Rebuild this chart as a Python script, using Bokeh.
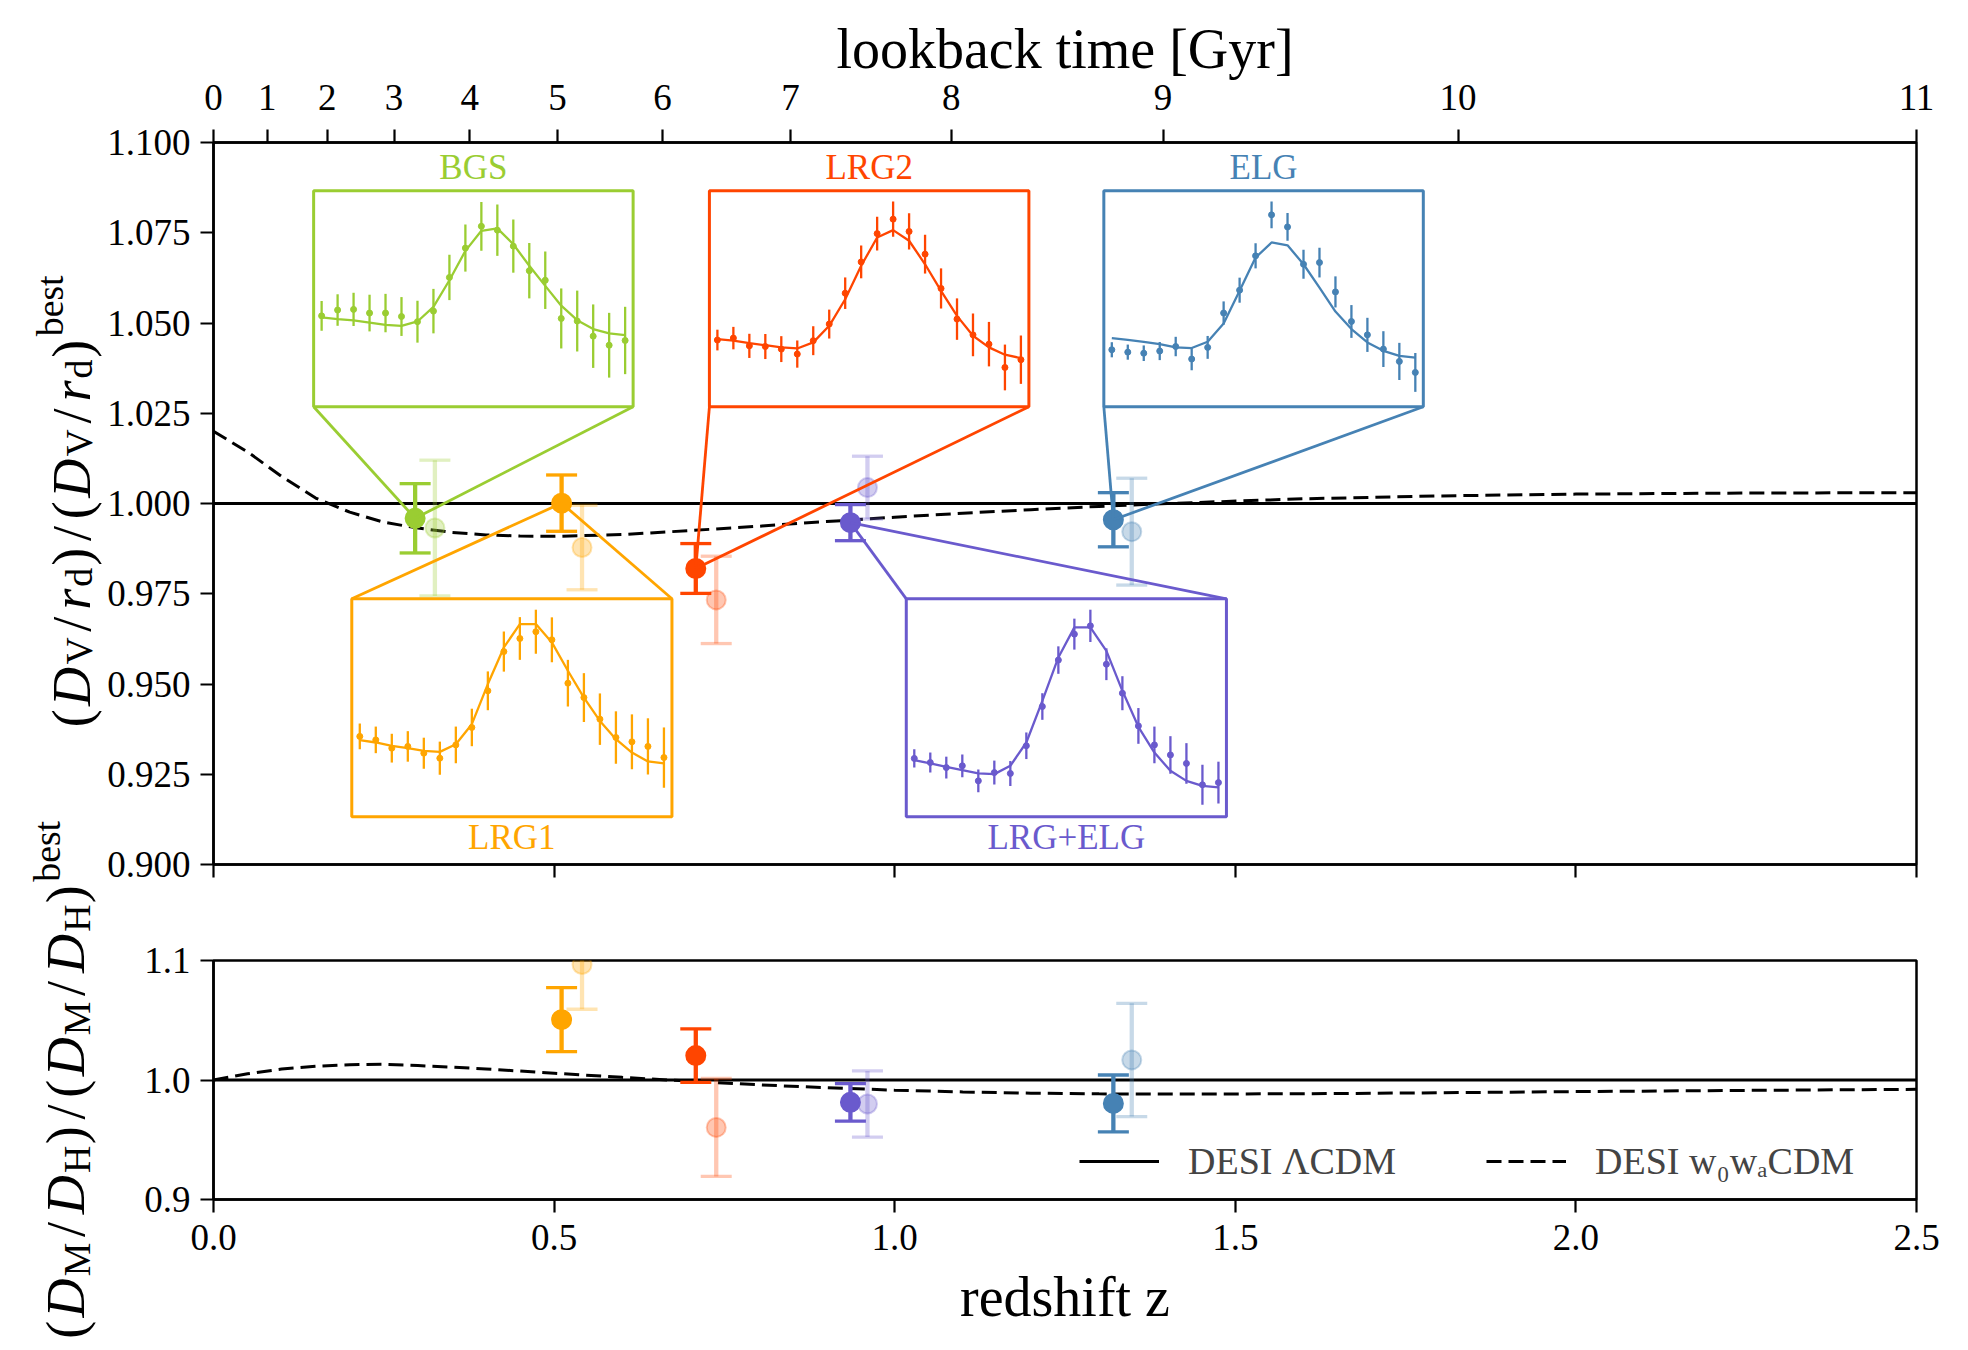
import math
from bokeh.plotting import figure
from bokeh.layouts import row, column
from bokeh.models import (Range1d, FixedTicker, PrintfTickFormatter, LinearAxis,
                          ColumnDataSource, Legend, LegendItem)
from bokeh.core.properties import value, field
from bokeh.embed import file_html
from bokeh.resources import INLINE

# ---------------------------------------------------------------- data
tracers = ["BGS", "LRG1", "LRG2", "LRG+ELG", "ELG"]
tracer_colors = ["#9acd32", "#ffa500", "#ff4500", "#6a5acd", "#4682b4"]

# isotropic BAO, (D_V/r_d) / best
z_eff = [0.296, 0.511, 0.708, 0.935, 1.321]
dv_ratio = [0.9959, 1.0001, 0.9820, 0.9947, 0.9955]
dv_err = [0.0096, 0.0078, 0.0069, 0.0050, 0.0075]
z_eff_prev = [0.325, 0.541, 0.738, 0.960, 1.348]
dv_ratio_prev = [0.9932, 0.9878, 0.9733, 1.0044, 0.9922]
dv_err_prev = [0.0188, 0.0117, 0.0121, 0.0087, 0.0148]

# anisotropic BAO, (D_M/D_H) / best
aniso_tracers = ["LRG1", "LRG2", "LRG+ELG", "ELG"]
aniso_colors = ["#ffa500", "#ff4500", "#6a5acd", "#4682b4"]
z_aniso = [0.511, 0.708, 0.935, 1.321]
dmdh_ratio = [1.0505, 1.0204, 0.9813, 0.9804]
dmdh_err = [0.0268, 0.0224, 0.0157, 0.0238]
z_aniso_prev = [0.541, 0.738, 0.960, 1.348]
dmdh_ratio_prev = [1.0966, 0.9603, 0.9799, 1.0168]
dmdh_err_prev = [0.0374, 0.0410, 0.0277, 0.0474]

# models
lcdm_z = [0.0, 2.5]
lcdm_ratio = [1.0, 1.0]
model_z = [0.0, 0.05, 0.1, 0.15, 0.2, 0.25, 0.3, 0.35, 0.4, 0.45, 0.5, 0.6, 0.7,
           0.8, 0.9, 1.0, 1.1, 1.2, 1.3, 1.4, 1.6, 1.8, 2.0, 2.25, 2.5]
w0wa_dv = [1.0200, 1.0143, 1.0075, 1.0015, 0.9976, 0.9948, 0.9932, 0.9920, 0.9913,
           0.9910, 0.9909, 0.9914, 0.9925, 0.9937, 0.9950, 0.9962, 0.9973, 0.9983,
           0.9992, 1.0000, 1.0013, 1.0021, 1.0026, 1.0029, 1.0030]
w0wa_dmdh = [1.0000, 1.0052, 1.0092, 1.0115, 1.0128, 1.0131, 1.0121, 1.0108, 1.0092,
             1.0075, 1.0057, 1.0022, 0.9990, 0.9960, 0.9935, 0.9915, 0.9900, 0.9890,
             0.9884, 0.9882, 0.9885, 0.9893, 0.9903, 0.9913, 0.9922]

# axes ticks
z_ticks = [0.0, 0.5, 1.0, 1.5, 2.0, 2.5]
dv_ticks = [0.9, 0.925, 0.95, 0.975, 1.0, 1.025, 1.05, 1.075, 1.1]
dmdh_ticks = [0.9, 1.0, 1.1]
lookback_gyr = [0, 1, 2, 3, 4, 5, 6, 7, 8, 9, 10, 11]
lookback_z = [0.0, 0.079, 0.167, 0.265, 0.376, 0.505, 0.659, 0.847, 1.083, 1.394, 1.827, 2.5]

# inset correlation-function panels
inset_s = [50, 55, 60, 65, 70, 75, 80, 85, 90, 95, 100, 105, 110, 115, 120, 125, 130, 135, 140, 145]
bgs_xi = [42.1, 44.8, 45.1, 43.4, 43.4, 41.8, 39.4, 44.3, 59.9, 73.5, 83.6, 81.8, 74.4, 63.0, 58.6, 40.9, 39.7, 32.7, 28.5, 30.7]
bgs_xi_err = [6.9, 7.3, 7.7, 8.5, 8.9, 9.0, 9.7, 10.3, 10.5, 10.9, 11.3, 11.9, 12.3, 12.8, 13.3, 13.9, 14.1, 14.7, 15.0, 15.6]
bgs_model = [41.4, 40.6, 40.0, 39.0, 37.9, 37.5, 39.5, 46.3, 58.6, 72.2, 81.5, 82.6, 75.3, 65.3, 56.0, 46.8, 40.1, 36.0, 34.0, 33.2]

lrg1_xi = [36.9, 35.3, 31.5, 32.3, 29.2, 26.9, 33.0, 41.0, 57.8, 75.8, 81.8, 84.9, 81.2, 61.3, 54.7, 44.8, 36.4, 34.4, 32.3, 27.2]
lrg1_xi_err = [5.9, 6.1, 6.6, 7.0, 7.1, 7.6, 8.4, 8.6, 8.9, 9.2, 9.8, 10.1, 10.3, 10.7, 11.2, 11.8, 12.0, 12.6, 12.9, 13.8]
lrg1_model = [35.2, 34.1, 32.6, 31.5, 30.3, 29.8, 33.3, 42.5, 60.9, 77.7, 88.4, 88.4, 80.0, 67.0, 54.7, 44.0, 35.6, 29.5, 25.4, 24.5]

lrg2_xi = [30.9, 31.8, 28.2, 27.9, 26.7, 24.4, 30.6, 38.3, 52.6, 67.1, 80.2, 86.9, 81.2, 70.7, 54.8, 40.6, 33.3, 29.0, 18.2, 21.8]
lrg2_xi_err = [4.8, 5.2, 5.6, 5.8, 6.0, 6.3, 6.7, 6.7, 7.3, 7.6, 7.8, 8.2, 8.4, 9.0, 9.3, 9.6, 9.9, 10.3, 10.6, 11.2]
lrg2_model = [31.3, 30.6, 29.5, 28.5, 27.5, 27.0, 29.8, 37.5, 49.8, 65.3, 78.4, 81.8, 76.9, 66.0, 53.7, 42.1, 32.9, 27.5, 24.1, 22.5]

lrgelg_xi = [26.8, 24.9, 22.6, 23.4, 16.5, 20.3, 19.9, 32.6, 50.6, 71.9, 83.8, 87.6, 70.0, 56.7, 41.7, 33.0, 28.4, 24.5, 14.7, 15.7]
lrgelg_xi_err = [4.2, 4.6, 5.0, 5.2, 5.2, 5.5, 5.7, 6.1, 6.1, 6.3, 7.1, 7.4, 7.3, 7.8, 8.2, 8.4, 8.6, 9.3, 9.2, 9.6]
lrgelg_model = [26.0, 24.5, 22.9, 21.4, 19.9, 19.6, 23.4, 34.1, 53.2, 73.1, 86.9, 86.9, 76.1, 57.8, 41.3, 29.5, 21.1, 16.5, 14.2, 13.5]

elg_xi = [26.4, 25.3, 24.8, 25.8, 27.9, 22.1, 27.5, 43.4, 54.0, 69.9, 88.9, 83.3, 66.0, 66.8, 53.2, 39.5, 33.3, 26.7, 21.0, 15.9]
elg_xi_err = [3.5, 3.5, 3.6, 4.2, 4.5, 5.2, 5.3, 5.4, 5.8, 5.8, 6.2, 6.4, 6.7, 6.9, 7.2, 7.6, 7.9, 8.3, 8.6, 9.0]
elg_model = [31.8, 31.0, 30.1, 29.0, 27.5, 27.2, 30.1, 38.6, 53.7, 69.1, 76.1, 74.8, 66.0, 55.2, 44.1, 36.0, 29.8, 25.9, 23.6, 22.8]

inset_data = {
    "BGS": (bgs_xi, bgs_xi_err, bgs_model),
    "LRG1": (lrg1_xi, lrg1_xi_err, lrg1_model),
    "LRG2": (lrg2_xi, lrg2_xi_err, lrg2_model),
    "LRG+ELG": (lrgelg_xi, lrgelg_xi_err, lrgelg_model),
    "ELG": (elg_xi, elg_xi_err, elg_model),
}

# ---------------------------------------------------------------- layout constants
FONT = "Liberation Serif"
inset_boxes = {
    "BGS": (0.147, 0.616, 1.0268, 1.0866, "above"),
    "LRG1": (0.203, 0.673, 0.9132, 0.9736, "below"),
    "LRG2": (0.728, 1.197, 1.0268, 1.0866, "above"),
    "LRG+ELG": (1.017, 1.487, 0.9132, 0.9736, "below"),
    "ELG": (1.307, 1.776, 1.0268, 1.0866, "above"),
}

LAB_W = 104                                # strip holding the rotated y labels
FR_L, FR_W, FR_R = 213, 1703, 40           # frame left (page px) / width / right border
MAIN_W = FR_L - LAB_W + FR_W + FR_R
TOP_FT, TOP_FH, SPLIT = 142, 722, 904      # top frame top, height, canvas split
BOT_FT_ABS, BOT_FH, PAGE_H = 960, 239, 1348
TOP_H = SPLIT
BOT_H = PAGE_H - SPLIT


def style_axis(ax, label_standoff=8):
    ax.axis_line_color = "black"
    ax.axis_line_width = 2.5
    ax.major_tick_line_color = "black"
    ax.major_tick_line_width = 2.2
    ax.major_tick_out = 13
    ax.major_tick_in = 0
    ax.minor_tick_line_color = None
    ax.major_label_text_font = FONT
    ax.major_label_text_font_size = "37px"
    ax.major_label_text_color = "black"
    ax.major_label_standoff = label_standoff
    ax.axis_label_text_font = FONT
    ax.axis_label_text_font_size = "56px"
    ax.axis_label_text_font_style = "normal"
    ax.axis_label_text_color = "black"


def base_style(fig):
    fig.grid.grid_line_color = None
    fig.outline_line_color = "black"
    fig.outline_line_width = 2.5
    fig.background_fill_color = "white"
    fig.border_fill_color = "white"


def draw_measurements(fig, zs, vals, errs, cols, faded):
    a = 0.3 if faded else 1.0
    src = ColumnDataSource(dict(z=zs, v=vals,
                                lo=[v - e for v, e in zip(vals, errs)],
                                hi=[v + e for v, e in zip(vals, errs)],
                                color=cols))
    fig.segment(x0="z", y0="lo", x1="z", y1="hi", source=src, line_color="color",
                line_width=4.3, line_alpha=a)
    for key in ("lo", "hi"):
        fig.scatter(x="z", y=key, source=src, marker="dash", size=31,
                    line_color="color", line_width=3.3, line_alpha=a)
    fig.scatter(x="z", y="v", source=src, marker="circle", size=19,
                fill_color="color", line_color="color", fill_alpha=a,
                line_alpha=a, line_width=2)


# ---------------------------------------------------------------- top panel
top = figure(width=MAIN_W, height=TOP_H, x_range=Range1d(0, 2.5), y_range=Range1d(0.9, 1.1),
             output_backend="svg", toolbar_location=None,
             min_border_left=FR_L - LAB_W, min_border_right=FR_R, min_border_top=TOP_FT,
             min_border_bottom=TOP_H - TOP_FT - TOP_FH)
base_style(top)
top.xaxis.ticker = FixedTicker(ticks=z_ticks)
top.xaxis.major_label_overrides = {t: "" for t in z_ticks}
top.yaxis.ticker = FixedTicker(ticks=dv_ticks)
top.yaxis.formatter = PrintfTickFormatter(format="%.3f")
for ax in top.xaxis:
    style_axis(ax, 0)
    ax.major_label_text_font_size = "1px"
for ax in top.yaxis:
    style_axis(ax, 10)

lb_axis = LinearAxis(ticker=FixedTicker(ticks=lookback_z),
                     major_label_overrides={z: str(g) for z, g in zip(lookback_z, lookback_gyr)},
                     axis_label="lookback time [Gyr]")
style_axis(lb_axis, 20)
lb_axis.axis_label_standoff = 2
top.add_layout(lb_axis, "above")

top.line(lcdm_z, lcdm_ratio, line_color="black", line_width=3)
top.line(model_z, w0wa_dv, line_color="black", line_width=3, line_dash="15 7")

draw_measurements(top, z_eff_prev, dv_ratio_prev, dv_err_prev, tracer_colors, True)
draw_measurements(top, z_eff, dv_ratio, dv_err, tracer_colors, False)

for name, col, z, v in zip(tracers, tracer_colors, z_eff, dv_ratio):
    z0, z1, v0, v1, side = inset_boxes[name]
    cy = v0 if side == "above" else v1
    top.segment(x0=[z, z], y0=[v, v], x1=[z0, z1], y1=[cy, cy], line_color=col, line_width=2.8)
for name, col in zip(tracers, tracer_colors):
    z0, z1, v0, v1, side = inset_boxes[name]
    top.quad(left=[z0], right=[z1], bottom=[v0], top=[v1], fill_color="white",
             line_color=col, line_width=3)
    xi, xerr, model = inset_data[name]
    sub = top.subplot(x_source=Range1d(47.5, 147.5), y_source=Range1d(0, 100),
                      x_target=Range1d(z0, z1), y_target=Range1d(v0, v1))
    sub.segment(x0=inset_s, y0=[a - b for a, b in zip(xi, xerr)],
                x1=inset_s, y1=[a + b for a, b in zip(xi, xerr)],
                line_color=col, line_width=2.3)
    sub.line(inset_s, model, line_color=col, line_width=2.3)
    sub.scatter(inset_s, xi, size=6, fill_color=col, line_color=col)
    ty = v1 + 0.0065 if side == "above" else v0 - 0.0058
    top.text(x=[(z0 + z1) / 2], y=[ty], text=[name], text_color=col,
             text_font=value(FONT), text_font_size="35px",
             text_align="center", text_baseline="middle")

# ---------------------------------------------------------------- bottom panel
bot = figure(width=MAIN_W, height=BOT_H, x_range=top.x_range, y_range=Range1d(0.9, 1.1),
             output_backend="svg", toolbar_location=None,
             min_border_left=FR_L - LAB_W, min_border_right=FR_R,
             min_border_top=BOT_FT_ABS - SPLIT,
             min_border_bottom=BOT_H - (BOT_FT_ABS - SPLIT) - BOT_FH)
base_style(bot)
bot.xaxis.ticker = FixedTicker(ticks=z_ticks)
bot.xaxis.formatter = PrintfTickFormatter(format="%.1f")
bot.xaxis.axis_label = "redshift z"
bot.yaxis.ticker = FixedTicker(ticks=dmdh_ticks)
bot.yaxis.formatter = PrintfTickFormatter(format="%.1f")
for ax in bot.xaxis:
    style_axis(ax, 12)
    ax.axis_label_standoff = 13
for ax in bot.yaxis:
    style_axis(ax, 10)

r_lcdm = bot.line(lcdm_z, lcdm_ratio, line_color="black", line_width=3)
r_w0wa = bot.line(model_z, w0wa_dmdh, line_color="black", line_width=3, line_dash="15 7")
draw_measurements(bot, z_aniso_prev, dmdh_ratio_prev, dmdh_err_prev, aniso_colors, True)
draw_measurements(bot, z_aniso, dmdh_ratio, dmdh_err, aniso_colors, False)

legend = Legend(items=[LegendItem(label="DESI \u039bCDM", renderers=[r_lcdm]),
                       LegendItem(label="DESI w\u2080w\u2090CDM", renderers=[r_w0wa])],
                orientation="horizontal", location=(866, 16), glyph_width=80, glyph_height=20,
                label_standoff=29, spacing=90, padding=5, margin=0,
                label_text_font=FONT, label_text_font_size="38px",
                border_line_color=None, background_fill_alpha=0)
bot.add_layout(legend)

# ---------------------------------------------------------------- rotated y labels strip
lab = figure(width=LAB_W, height=PAGE_H, x_range=Range1d(0, LAB_W), y_range=Range1d(0, PAGE_H),
             output_backend="svg", toolbar_location=None, min_border=0,
             min_border_left=0, min_border_right=0, min_border_top=0, min_border_bottom=0,
             x_axis_location=None, y_axis_location=None)
lab.grid.grid_line_color = None
lab.outline_line_color = None
lab.border_fill_color = "white"
lab.background_fill_color = "white"

CM_ADV = {"(": .389, ")": .389, "/": .5, "D": .828, "r": .451, "V": .75, "d": .556,
          "M": .917, "H": .75, "best": 1.783}
TM_W = {"(": .333, ")": .333, "/": .278, "D": .722, "r": .389, "V": .722, "d": .5,
        "M": .889, "H": .722, "best": 1.611}
ITAL = {"D", "r"}


def add_vertical_math(seq, start_y, base_x, sub_shift, sup_shift):
    xs, ys, txt, sty, siz = [], [], [], [], []
    s = 0.0
    for tok, kind in seq:
        sc = 1.0 if kind == "main" else 0.7
        adv = CM_ADV[tok] * 52.4 * sc
        w = TM_W[tok] * 54 * sc
        shift = {"main": 0, "sub": sub_shift, "sup": -sup_shift}[kind]
        xs.append(base_x + shift)
        ys.append(PAGE_H - (start_y - s - (adv - w) / 2))
        txt.append(tok)
        sty.append("italic" if tok in ITAL else "normal")
        siz.append("%.1fpx" % (54 * sc))
        s += adv
    src = ColumnDataSource(dict(x=xs, y=ys, text=txt, style=sty, size=siz))
    lab.text(x="x", y="y", text="text", source=src, angle=math.pi / 2,
             text_font=value(FONT), text_font_style=field("style"),
             text_font_size=field("size"), text_align="left",
             text_baseline="alphabetic", text_color="black")


dv_label = [("(", "main"), ("D", "main"), ("V", "sub"), ("/", "main"), ("r", "main"),
            ("d", "sub"), (")", "main"), ("/", "main"), ("(", "main"), ("D", "main"),
            ("V", "sub"), ("/", "main"), ("r", "main"), ("d", "sub"), (")", "main"),
            ("best", "sup")]
dmdh_label = [("(", "main"), ("D", "main"), ("M", "sub"), ("/", "main"), ("D", "main"),
              ("H", "sub"), (")", "main"), ("/", "main"), ("(", "main"), ("D", "main"),
              ("M", "sub"), ("/", "main"), ("D", "main"), ("H", "sub"), (")", "main"),
              ("best", "sup")]
add_vertical_math(dv_label, 728, 71, 7, 22)
add_vertical_math(dmdh_label, 1339.5, 65, 11, 19)

layout = row(lab, column(top, bot))
open("out.html", "w").write(file_html(layout, INLINE))
